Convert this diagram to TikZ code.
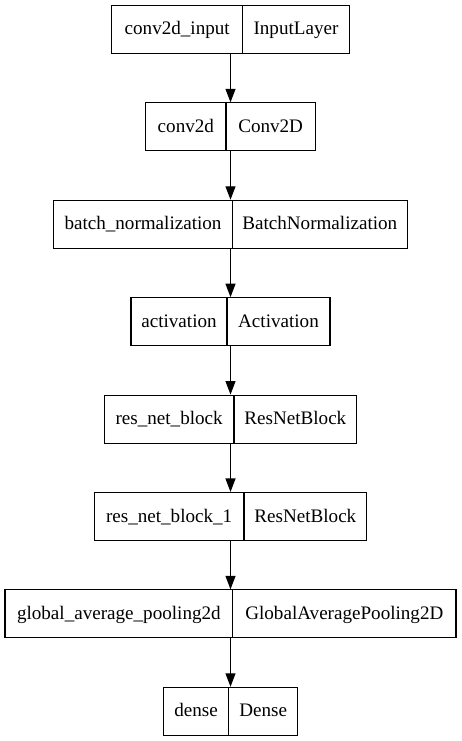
\documentclass[tikz,border=0pt]{standalone}
\usepackage{fontspec}
\setmainfont{Liberation Serif}
\usetikzlibrary{arrows.meta}
\newcommand\layerrow[7]{%
  \node[layerbox, minimum width={#5-#3}] (#1) at ({(#3+#5)/2},{-(#2+24)}) {};
  \node[celltext] (#1a) at ({(#3+#4)/2},{-(#2+29.5)}) {#6};
  \node[celltext] (#1b) at ({(#4+#5)/2},{-(#2+29.5)}) {#7};
  \draw[divline] (#4,-#2) -- (#4,{-(#2+48)});
}
\begin{document}
\begin{tikzpicture}[x=1pt,y=1pt,
  layerbox/.style={draw=black, line width=1.1pt, minimum height=48pt, inner sep=0pt},
  divline/.style={draw=black, line width=1.1pt},
  celltext/.style={inner sep=0pt, anchor=base, font=\fontsize{19.1}{22}\selectfont},
  flow/.style={draw=black, line width=1.1pt, -{Triangle[length=13.5pt,width=10pt]}}]
\useasboundingbox (0,0) rectangle (461,-741);
\layerrow{r1}{5.5}{111.7}{242.7}{349.3}{conv2d\_input}{InputLayer}
\layerrow{r2}{102.9}{145.7}{226}{315.3}{conv2d}{Conv2D}
\layerrow{r3}{200.3}{53.7}{232.3}{407.3}{batch\_normalization}{BatchNormalization}
\layerrow{r4}{297.7}{131}{227}{330}{activation}{Activation}
\layerrow{r5}{395.1}{104.3}{234}{356.7}{res\_net\_block}{ResNetBlock}
\layerrow{r6}{492.5}{94.3}{244}{366.7}{res\_net\_block\_1}{ResNetBlock}
\layerrow{r7}{589.9}{5}{232.7}{456}{global\_average\_pooling2d}{GlobalAveragePooling2D}
\layerrow{r8}{687.3}{163.3}{228.7}{297.7}{dense}{Dense}
\draw[flow] (r1.south) -- (r1.south |- r2.north);
\draw[flow] (r2.south) -- (r2.south |- r3.north);
\draw[flow] (r3.south) -- (r3.south |- r4.north);
\draw[flow] (r4.south) -- (r4.south |- r5.north);
\draw[flow] (r5.south) -- (r5.south |- r6.north);
\draw[flow] (r6.south) -- (r6.south |- r7.north);
\draw[flow] (r7.south) -- (r7.south |- r8.north);
\end{tikzpicture}
\end{document}
